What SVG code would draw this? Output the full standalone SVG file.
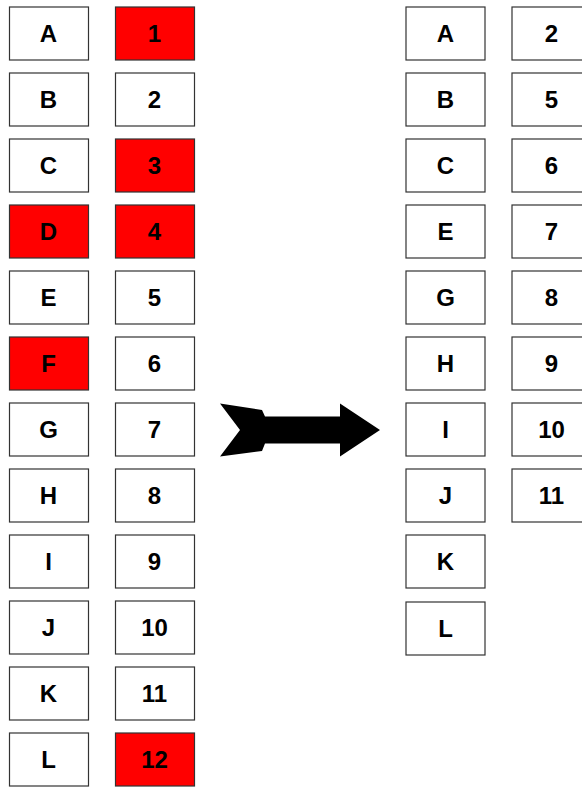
<svg xmlns="http://www.w3.org/2000/svg" width="582" height="787" viewBox="0 0 582 787">
<style>
.b rect{fill:#fff;stroke:#333;stroke-width:1.2}
.b.r rect{fill:#ff0000}
.b text{font-family:"Liberation Sans",Arial,sans-serif;font-weight:bold;font-size:24px;text-anchor:middle;fill:#000}
</style>
<rect width="582" height="787" fill="#fff"/>
<g id="L-A" class="b"><rect x="9.5" y="7" width="79" height="53"/><text x="48.5" y="42">A</text></g>
<g id="L-B" class="b"><rect x="9.5" y="73" width="79" height="53"/><text x="48.5" y="108">B</text></g>
<g id="L-C" class="b"><rect x="9.5" y="139" width="79" height="53"/><text x="48.5" y="174">C</text></g>
<g id="L-D" class="b r"><rect x="9.5" y="205" width="79" height="53"/><text x="48.5" y="240">D</text></g>
<g id="L-E" class="b"><rect x="9.5" y="271" width="79" height="53"/><text x="48.5" y="306">E</text></g>
<g id="L-F" class="b r"><rect x="9.5" y="337" width="79" height="53"/><text x="48.5" y="372">F</text></g>
<g id="L-G" class="b"><rect x="9.5" y="403" width="79" height="53"/><text x="48.5" y="438">G</text></g>
<g id="L-H" class="b"><rect x="9.5" y="469" width="79" height="53"/><text x="48.5" y="504">H</text></g>
<g id="L-I" class="b"><rect x="9.5" y="535" width="79" height="53"/><text x="48.5" y="570">I</text></g>
<g id="L-J" class="b"><rect x="9.5" y="601" width="79" height="53"/><text x="48.5" y="636">J</text></g>
<g id="L-K" class="b"><rect x="9.5" y="667" width="79" height="53"/><text x="48.5" y="702">K</text></g>
<g id="L-L" class="b"><rect x="9.5" y="733" width="79" height="53"/><text x="48.5" y="768">L</text></g>

<g id="N-1" class="b r"><rect x="115.5" y="7" width="79" height="53"/><text x="154.5" y="42">1</text></g>
<g id="N-2" class="b"><rect x="115.5" y="73" width="79" height="53"/><text x="154.5" y="108">2</text></g>
<g id="N-3" class="b r"><rect x="115.5" y="139" width="79" height="53"/><text x="154.5" y="174">3</text></g>
<g id="N-4" class="b r"><rect x="115.5" y="205" width="79" height="53"/><text x="154.5" y="240">4</text></g>
<g id="N-5" class="b"><rect x="115.5" y="271" width="79" height="53"/><text x="154.5" y="306">5</text></g>
<g id="N-6" class="b"><rect x="115.5" y="337" width="79" height="53"/><text x="154.5" y="372">6</text></g>
<g id="N-7" class="b"><rect x="115.5" y="403" width="79" height="53"/><text x="154.5" y="438">7</text></g>
<g id="N-8" class="b"><rect x="115.5" y="469" width="79" height="53"/><text x="154.5" y="504">8</text></g>
<g id="N-9" class="b"><rect x="115.5" y="535" width="79" height="53"/><text x="154.5" y="570">9</text></g>
<g id="N-10" class="b"><rect x="115.5" y="601" width="79" height="53"/><text x="154.5" y="636">10</text></g>
<g id="N-11" class="b"><rect x="115.5" y="667" width="79" height="53"/><text x="154.5" y="702">11</text></g>
<g id="N-12" class="b r"><rect x="115.5" y="733" width="79" height="53"/><text x="154.5" y="768">12</text></g>

<g id="connectors">
<path d="M220,403.5 L262,410 L265,416.5 L340,416.5 L340,403.5 L380,430 L340,456.5 L340,443.5 L265,443.5 L262,451 L220,456.5 L240,430 Z" fill="#000"/>
</g>

<g id="R-A" class="b"><rect x="406" y="7" width="79" height="53"/><text x="445.5" y="42">A</text></g>
<g id="R-B" class="b"><rect x="406" y="73" width="79" height="53"/><text x="445.5" y="108">B</text></g>
<g id="R-C" class="b"><rect x="406" y="139" width="79" height="53"/><text x="445.5" y="174">C</text></g>
<g id="R-E" class="b"><rect x="406" y="205" width="79" height="53"/><text x="445.5" y="240">E</text></g>
<g id="R-G" class="b"><rect x="406" y="271" width="79" height="53"/><text x="445.5" y="306">G</text></g>
<g id="R-H" class="b"><rect x="406" y="337" width="79" height="53"/><text x="445.5" y="372">H</text></g>
<g id="R-I" class="b"><rect x="406" y="403" width="79" height="53"/><text x="445.5" y="438">I</text></g>
<g id="R-J" class="b"><rect x="406" y="469" width="79" height="53"/><text x="445.5" y="504">J</text></g>
<g id="R-K" class="b"><rect x="406" y="535" width="79" height="53"/><text x="445.5" y="570">K</text></g>
<g id="R-L" class="b"><rect x="406" y="602" width="79" height="53"/><text x="445.5" y="637">L</text></g>

<g id="R-2" class="b"><rect x="512" y="7" width="79" height="53"/><text x="551.5" y="42">2</text></g>
<g id="R-5" class="b"><rect x="512" y="73" width="79" height="53"/><text x="551.5" y="108">5</text></g>
<g id="R-6" class="b"><rect x="512" y="139" width="79" height="53"/><text x="551.5" y="174">6</text></g>
<g id="R-7" class="b"><rect x="512" y="205" width="79" height="53"/><text x="551.5" y="240">7</text></g>
<g id="R-8" class="b"><rect x="512" y="271" width="79" height="53"/><text x="551.5" y="306">8</text></g>
<g id="R-9" class="b"><rect x="512" y="337" width="79" height="53"/><text x="551.5" y="372">9</text></g>
<g id="R-10" class="b"><rect x="512" y="403" width="79" height="53"/><text x="551.5" y="438">10</text></g>
<g id="R-11" class="b"><rect x="512" y="469" width="79" height="53"/><text x="551.5" y="504">11</text></g>
</svg>
